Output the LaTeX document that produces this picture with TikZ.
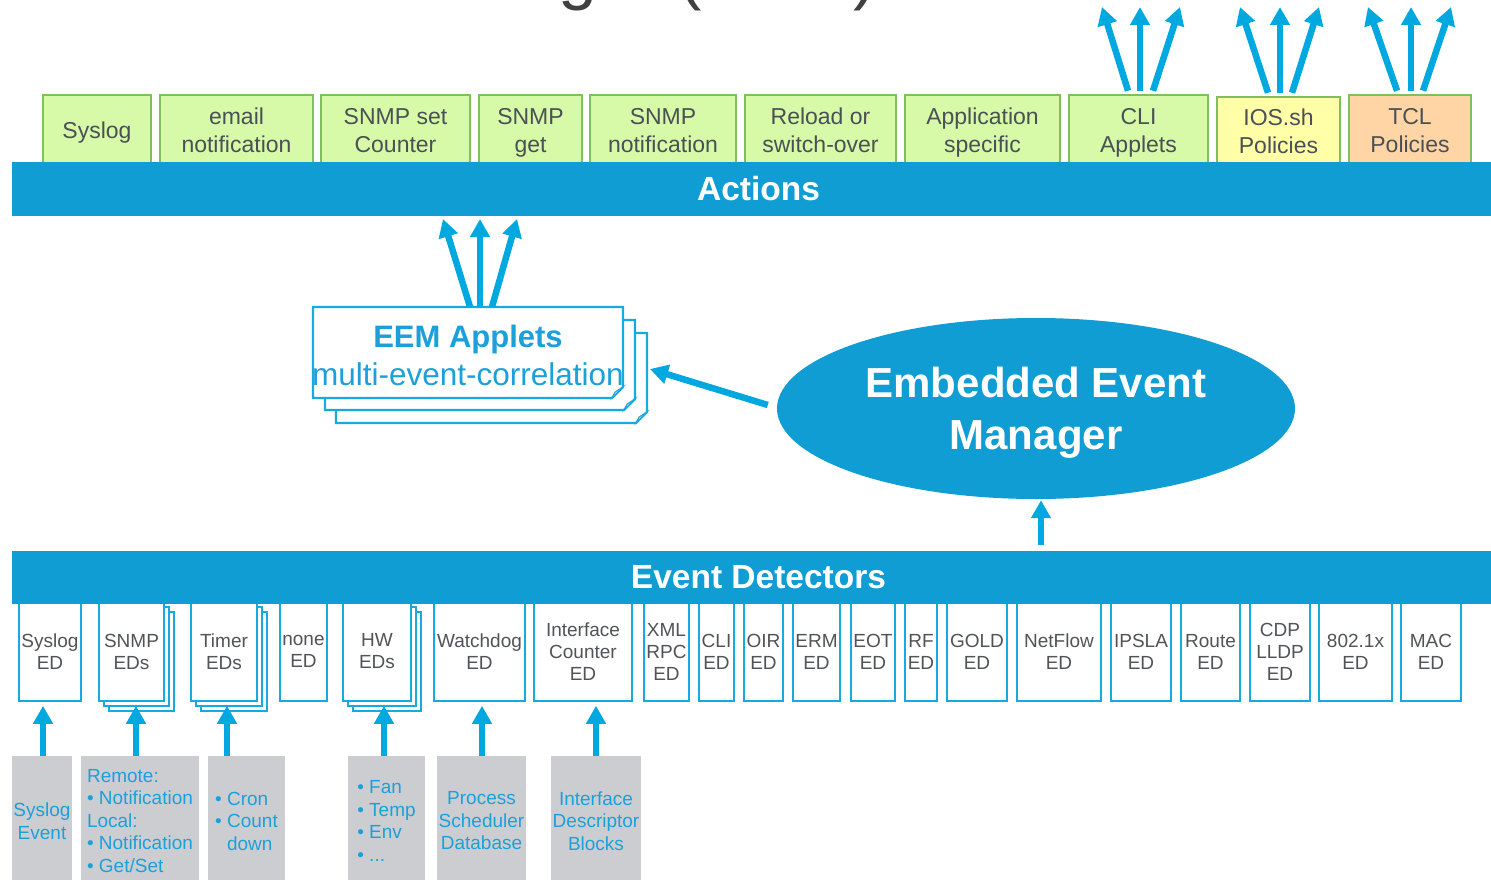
\documentclass[tikz,border=0pt]{standalone}
\usepackage{fontspec}
\setmainfont{Liberation Sans}
\usetikzlibrary{arrows.meta,shapes.geometric,calc}
\definecolor{barblue}{RGB}{16,157,212}
\definecolor{arrblue}{RGB}{0,168,224}
\definecolor{edline}{RGB}{22,170,225}
\definecolor{actgreen}{RGB}{126,192,92}
\definecolor{greenfill}{RGB}{214,250,168}
\definecolor{yellowfill}{RGB}{255,255,168}
\definecolor{orangefill}{RGB}{255,213,166}
\definecolor{darktxt}{RGB}{74,80,86}
\definecolor{edtxt}{RGB}{80,84,88}
\definecolor{grayfill}{RGB}{204,205,209}
\definecolor{cyantxt}{RGB}{28,160,218}
\definecolor{titlegray}{RGB}{64,64,64}
\definecolor{foldgray}{RGB}{200,205,210}
\tikzset{
  actbox/.style={draw=actgreen, line width=2.5pt, rectangle, inner sep=0pt, align=center,
    text=darktxt, font=\fontsize{23}{28}\selectfont, text depth=0pt},
  barbox/.style={fill=barblue, draw=none, rectangle, inner sep=0pt, text=white,
    font=\bfseries\fontsize{33.5}{40}\selectfont, minimum width=1493pt},
  edbox/.style={draw=edline, fill=white, line width=2.5pt, rectangle, inner sep=0pt,
    align=center, text=edtxt, font=\fontsize{19}{22}\selectfont, minimum height=99pt},
  srcbox/.style={fill=grayfill, draw=none, rectangle, inner sep=0pt, text=cyantxt,
    font=\fontsize{19}{22.5}\selectfont, minimum height=130pt},
  arr/.style={draw=arrblue, line width=6.5pt, -{Triangle[length=18pt,width=19pt]}},
  eemline/.style={draw=edline, line width=2.2pt, fill=white},
}
% action box: name, x1, x2, top, fill, text
\newcommand\mkact[6]{\node[actbox, fill=#5, minimum width={(#3-#2-2)*1pt},
  minimum height={(165-#4)*1pt}] (#1) at ({(#2+#3)/2},{(#4+165)/2}) {#6};}
% event detector box: name, x1, x2, text
\newcommand\mked[4]{\node[edbox, minimum width={(#3-#2-2)*1pt}] (#1) at ({(#2+#3)/2},651.5) {#4};}
\newcommand\mkedstack[4]{%
  \node[edbox, minimum width={(#3-#2-2)*1pt}] (#1-c) at ({(#2+#3)/2+10},661.5) {};
  \node[edbox, minimum width={(#3-#2-2)*1pt}] (#1-b) at ({(#2+#3)/2+5},656.5) {};
  \node[edbox, minimum width={(#3-#2-2)*1pt}] (#1) at ({(#2+#3)/2},651.5) {#4};}
% dog-eared sheet: x1 y1 x2 y2
\newcommand\dogear[4]{%
  \filldraw[eemline] (#1,#2) -- (#3,#2) -- (#3,#4-11) -- (#3-11,#4) -- (#1,#4) -- cycle;
  \filldraw[draw=edline, line width=1pt, fill=foldgray] (#3,#4-11) -- (#3-11,#4) -- (#3-8,#4-6) -- cycle;}
\begin{document}
\begin{tikzpicture}[x=1pt,y=-1pt]
\useasboundingbox (0,0) rectangle (1491,880);
\clip (0,0) rectangle (1491,880);

% title (cut off by the top edge, as in the reference)
\node[anchor=base west, inner sep=0pt, text=titlegray, font=\fontsize{70}{80}\selectfont]
  (title) at (383,-3) {Manager (EEM)};

% actions row
\mkact{sys}{42}{152}{95}{greenfill}{Syslog}
\mkact{mail}{159}{314}{95}{greenfill}{email\\notification}
\mkact{snmpset}{320}{471}{95}{greenfill}{SNMP set\\Counter}
\mkact{snmpget}{478}{583}{95}{greenfill}{SNMP\\get}
\mkact{snmpnot}{589}{737}{95}{greenfill}{SNMP\\notification}
\mkact{reload}{744}{897}{95}{greenfill}{Reload or\\switch-over}
\mkact{app}{904}{1061}{95}{greenfill}{Application\\specific}
\mkact{cli}{1068}{1209}{95}{greenfill}{CLI\\Applets}
\mkact{ios}{1216}{1341}{97}{yellowfill}{IOS.sh\\Policies}
\mkact{tcl}{1348}{1472}{95}{orangefill}{TCL\\Policies}

\node[barbox, minimum height=54pt] (actions) at (758.5,189) {\raisebox{-2pt}{Actions}};

% fan-out arrows above the script boxes
\coordinate (cliL) at (1102,7);  \coordinate (cliM) at (1140,7);  \coordinate (cliR) at (1180,7);
\coordinate (iosL) at (1240,7);  \coordinate (iosM) at (1280,7);  \coordinate (iosR) at (1319,7);
\coordinate (tclL) at (1368,7);  \coordinate (tclM) at (1411,7);  \coordinate (tclR) at (1451,7);
\draw[arr] ([xshift=-10.5pt,yshift=3pt]cli.north) -- (cliL);
\draw[arr] ([xshift=1.5pt,yshift=3pt]cli.north) -- (cliM);
\draw[arr] ([xshift=14.5pt,yshift=3pt]cli.north) -- (cliR);
\draw[arr] ([xshift=-10.5pt,yshift=3pt]ios.north) -- (iosL);
\draw[arr] ([xshift=1.5pt,yshift=3pt]ios.north) -- (iosM);
\draw[arr] ([xshift=13.5pt,yshift=3pt]ios.north) -- (iosR);
\draw[arr] ([xshift=-13pt,yshift=3pt]tcl.north) -- (tclL);
\draw[arr] ([xshift=1pt,yshift=3pt]tcl.north) -- (tclM);
\draw[arr] ([xshift=13pt,yshift=3pt]tcl.north) -- (tclR);

% EEM applets stack
\dogear{336}{333}{647}{423}
\dogear{325}{320}{635}{410}
\dogear{313}{307}{623}{398}
\node[inner sep=0pt, minimum width=310pt, minimum height=91pt, align=center, text=cyantxt,
  font=\fontsize{31.5}{38}\selectfont] (eem) at (468,355)
  {{\bfseries\fontsize{31}{38}\selectfont EEM Applets}\\multi-event-correlation};
\coordinate (aL) at (443,219); \coordinate (aM) at (480,219); \coordinate (aR) at (517,219);
\draw[arr] ([xshift=2pt,yshift=2.5pt]eem.north) -- (aL);
\draw[arr] ([xshift=12pt,yshift=2.5pt]eem.north) -- (aM);
\draw[arr] ([xshift=24pt,yshift=2.5pt]eem.north) -- (aR);

% Embedded Event Manager
\node[ellipse, fill=barblue, minimum width=518pt, minimum height=181pt, inner sep=0pt,
  text=white, align=center, font=\bfseries\fontsize{42}{52}\selectfont, text depth=-4pt]
  (ell) at (1036,408.5) {Embedded Event\\Manager};
\coordinate (eemIn) at (650,369);
\draw[arr] ([xshift=-9pt,yshift=3.5pt]ell.west) -- (eemIn);

% event detectors
\mked{e1}{18}{82}{Syslog\\ED}
\mkedstack{e2}{98}{165}{SNMP\\EDs}
\mkedstack{e3}{190}{258}{Timer\\EDs}
\mked{e4}{279}{328}{none\\ED}
\mkedstack{e5}{342}{412}{HW\\EDs}
\mked{e6}{433}{526}{Watchdog\\ED}
\mked{e7}{533}{633}{Interface\\Counter\\ED}
\mked{e8}{643}{690}{XML\\RPC\\ED}
\mked{e9}{698}{735}{CLI\\ED}
\mked{e10}{743}{784}{OIR\\ED}
\mked{e11}{792}{841}{ERM\\ED}
\mked{e12}{850}{896}{EOT\\ED}
\mked{e13}{904}{938}{RF\\ED}
\mked{e14}{946}{1008}{GOLD\\ED}
\mked{e15}{1016}{1102}{NetFlow\\ED}
\mked{e16}{1110}{1172}{IPSLA\\ED}
\mked{e17}{1180}{1241}{Route\\ED}
\mked{e18}{1249}{1311}{CDP\\LLDP\\ED}
\mked{e19}{1318}{1393}{802.1x\\ED}
\mked{e20}{1400}{1462}{MAC\\ED}

\node[barbox, minimum height=53pt] (edbar) at (758.5,577.5) {\raisebox{-2.5pt}{Event Detectors}};
\draw[arr] ([xshift=282.5pt,yshift=6pt]edbar.north) -- ([xshift=5pt,yshift=-1pt]ell.south);

% event sources (boxes run past the bottom edge)
\node[srcbox, minimum width=60pt, align=center] (g1) at (42,821) {Syslog\\Event};
\node[srcbox, minimum width=118pt, align=left] (g2) at (140,821)
  {Remote:\\\textbullet\ Notification\\Local:\\\textbullet\ Notification\\\textbullet\ Get/Set};
\node[srcbox, minimum width=77pt, align=left] (g3) at (246.5,821)
  {\textbullet\ Cron\\\textbullet\ Count\\\phantom{\textbullet\ }down};
\node[srcbox, minimum width=77pt, align=left] (g4) at (386.5,821)
  {\textbullet\ Fan\\\textbullet\ Temp\\\textbullet\ Env\\\textbullet\ ...};
\node[srcbox, minimum width=89pt, align=center] (g5) at (481.5,821) {Process\\Scheduler\\Database};
\node[srcbox, minimum width=90pt, align=center] (g6) at (596,821) {Interface\\Descriptor\\Blocks};

\draw[arr] ($(g1.north)+(1,0)$) -- ($(g1.north)+(1,-50)$);
\draw[arr] ($(g2.north)+(-4,0)$) -- ($(g2.north)+(-4,-50)$);
\draw[arr] ($(g3.north)+(-19.5,0)$) -- ($(g3.north)+(-19.5,-50)$);
\draw[arr] ($(g4.north)+(-2.5,0)$) -- ($(g4.north)+(-2.5,-50)$);
\draw[arr] ($(g5.north)+(0.5,0)$) -- ($(g5.north)+(0.5,-50)$);
\draw[arr] ($(g6.north)+(0,0)$) -- ($(g6.north)+(0,-50)$);
\end{tikzpicture}
\end{document}
